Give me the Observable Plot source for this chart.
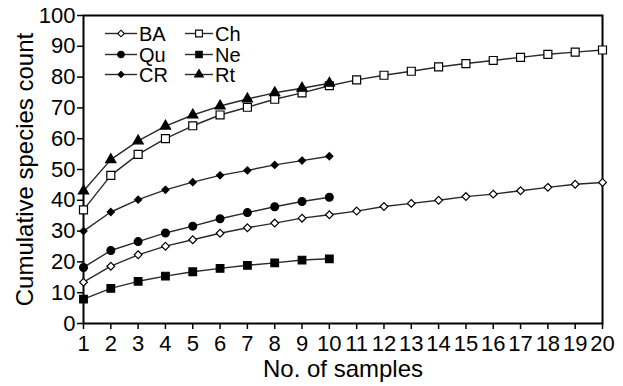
<!DOCTYPE html>
<html>
<head>
<meta charset="utf-8">
<script src="https://cdn.jsdelivr.net/npm/d3@7"></script>
<script src="https://cdn.jsdelivr.net/npm/@observablehq/plot@0.6"></script>
<style>
  html, body { margin: 0; padding: 0; background: #fff; }
  #wrap { position: relative; width: 623px; height: 386px; font-family: "Liberation Sans", Arial, Helvetica, sans-serif; }
  #legend { position: absolute; left: 0; top: 0; }
</style>
</head>
<body>
<div id="wrap"></div>
<script>
const samples = [1,2,3,4,5,6,7,8,9,10,11,12,13,14,15,16,17,18,19,20];
const xTicks = [1,2,3,4,5,6,7,8,9,10,11,12,13,14,15,16,17,18,19,20];
const yTicks = [0,10,20,30,40,50,60,70,80,90,100];

const seriesNames = ["BA", "Ch", "Qu", "Ne", "CR", "Rt"];
const BA = [13.4,18.6,22.3,25.1,27.2,29.3,31.1,32.6,34.2,35.3,36.5,38.0,39.0,40.0,41.2,42.0,43.1,44.2,45.2,45.8];
const Ch = [36.9,48.1,54.9,60.0,64.2,67.7,70.2,72.8,74.9,77.2,79.1,80.6,81.9,83.3,84.4,85.4,86.4,87.4,88.1,88.8];
const Qu = [18.2,23.7,26.6,29.4,31.6,34.0,36.0,37.9,39.6,41.0];
const Ne = [7.9,11.4,13.7,15.4,16.8,17.9,18.9,19.7,20.6,21.0];
const CR = [30.0,36.2,40.2,43.4,45.9,48.1,49.7,51.5,52.9,54.3];
const Rt = [43.0,53.2,59.3,64.1,67.7,70.6,72.9,74.9,76.4,78.0];

const seriesValues = {BA, Ch, Qu, Ne, CR, Rt};
const symbols = {BA: "diamond2", Ch: "square", Qu: "circle", Ne: "square", CR: "diamond2", Rt: "triangle"};
const fills = {BA: "white", Ch: "white", Qu: "black", Ne: "black", CR: "black", Rt: "black"};
const radii = {BA: 3.5, Ch: 4.5, Qu: 3.9, Ne: 4.3, CR: 3.2, Rt: 3.8};

const rows = seriesNames.flatMap(name =>
  seriesValues[name].map((v, i) => ({series: name, x: samples[i], y: v}))
);

const FONT = '"Liberation Sans", Arial, Helvetica, sans-serif';
const marks = [
  Plot.axisY({ticks: yTicks, tickSize: 6, tickPadding: 2, fontSize: 22, label: "Cumulative species count",
    labelAnchor: "center", labelArrow: "none", labelOffset: 68, strokeWidth: 1.5}),
  Plot.axisX({ticks: xTicks, tickSize: 6, tickPadding: 6, fontSize: 22, label: "No. of samples",
    labelAnchor: "center", labelArrow: "none", labelOffset: 53, strokeWidth: 1.5}),
  Plot.frame({stroke: "black", strokeWidth: 2}),
  Plot.line(rows, {x: "x", y: "y", z: "series", stroke: "#2a2a2a", strokeWidth: 1.4})
];
for (const name of seriesNames) {
  marks.push(Plot.dot(rows.filter(d => d.series === name), {
    x: "x", y: "y", symbol: () => symbols[name], r: radii[name],
    fill: fills[name], stroke: "black", strokeWidth: 1.2
  }));
}

const chart = Plot.plot({
  width: 623,
  height: 386,
  marginLeft: 83,
  marginRight: 21,
  marginTop: 15,
  marginBottom: 63,
  style: {fontFamily: FONT, fontSize: "22px", color: "black", background: "white", overflow: "visible"},
  x: {domain: [1, 20]},
  y: {domain: [0, 100]},
  symbol: {type: "identity"},
  marks
});
const wrap = document.getElementById("wrap");
wrap.appendChild(chart);

d3.select(chart).selectAll("g[aria-label='y-axis label'] text, g[aria-label='x-axis label'] text")
  .style("font-size", "24px");

// legend overlay
const legendItems = [
  {name: "BA", col: 0, row: 0}, {name: "Ch", col: 1, row: 0},
  {name: "Qu", col: 0, row: 1}, {name: "Ne", col: 1, row: 1},
  {name: "CR", col: 0, row: 2}, {name: "Rt", col: 1, row: 2}
];
const symMap = {circle: d3.symbolCircle, square: d3.symbolSquare, diamond2: d3.symbolDiamond2, triangle: d3.symbolTriangle};
const lg = d3.select(wrap).append("svg").attr("id", "legend").attr("width", 623).attr("height", 386);
const colX = [105, 185];
const colW = [32, 28];
const rowY = [33.5, 54.5, 74.5];
for (const it of legendItems) {
  const x0 = colX[it.col], y0 = rowY[it.row], w = colW[it.col];
  const g = lg.append("g").attr("transform", `translate(${x0},${y0})`);
  g.append("line").attr("x1", 0).attr("x2", w).attr("y1", 0).attr("y2", 0).attr("stroke", "#2a2a2a").attr("stroke-width", 1.4);
  const r = radii[it.name] * 0.85;
  g.append("path").attr("transform", `translate(${w / 2},0)`)
    .attr("d", d3.symbol(symMap[symbols[it.name]], r * r * Math.PI)())
    .attr("fill", fills[it.name]).attr("stroke", "black").attr("stroke-width", 1.1);
  g.append("text").attr("x", w + 2).attr("y", 0).attr("dy", "0.36em")
    .attr("font-size", 20).attr("font-family", FONT)
    .attr("fill", "black").text(it.name);
}
</script>
</body>
</html>
